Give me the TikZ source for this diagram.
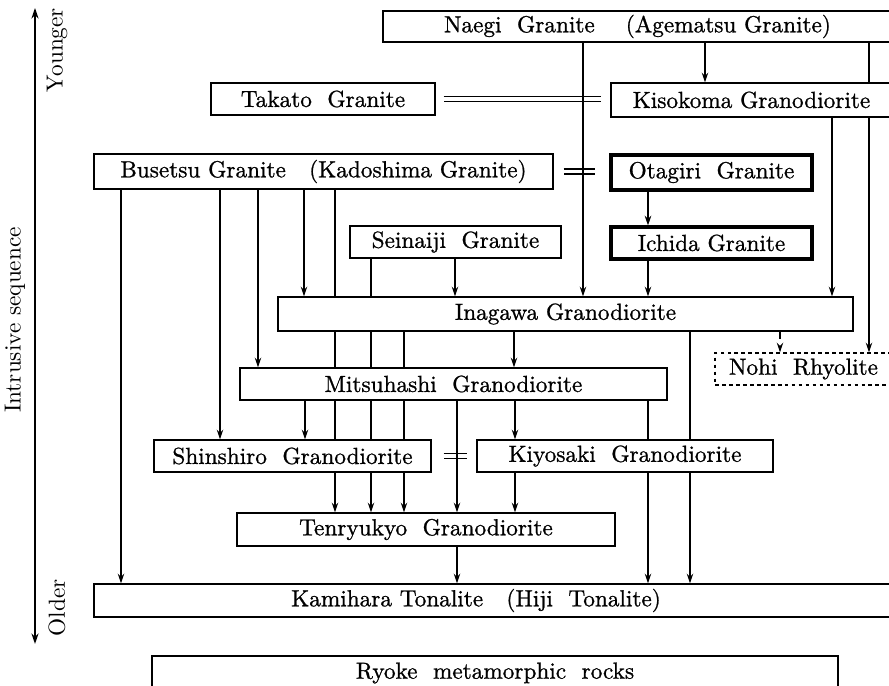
\documentclass[tikz,border=0pt]{standalone}
\usepackage{fontspec}
\usetikzlibrary{arrows.meta,backgrounds}
\newfontfamily\rockfont{Latin Modern Roman}[FakeBold=0.9]
\newcommand{\pu}{0.43pt}
\tikzset{
  rock/.style={
    draw,
    fill=white,
    line width=0.5pt,
    inner sep=0pt,
    font=\rockfont
  },
  rock-thick/.style={rock, line width=1.3pt},
  rock-dashed/.style={rock, dash pattern=on 1.6pt off 1.4pt},
  sz/.style 2 args={minimum width=#1*\pu, minimum height=#2*\pu},
  flow/.style={line width=0.6pt, -{Stealth[length=4.2pt,width=2.8pt]}},
  equal/.style={double, double distance=1.7pt, line width=0.5pt},
  age/.style={line width=0.6pt, {Stealth[length=4.5pt,width=3pt]}-{Stealth[length=4.5pt,width=3pt]}}
}

\begin{document}
\begin{tikzpicture}[x=\pu, y=-\pu]
  \useasboundingbox (0,0) rectangle (889,686);
  \clip (0,0) rectangle (889,686);
  % rock units
  \node[rock, sz={509}{31}] (naegi) at (637.5,26.5) {Naegi\ \ Granite\quad\ (Agematsu Granite)};
  \node[rock, sz={224}{32}] (takato) at (323,99) {Takato\ \ Granite};
  \node[rock, sz={281}{34}] (kisokoma) at (751.5,100) {Kisokoma Granodiorite};
  \node[rock, sz={459}{35}] (busetsu) at (323.5,171.5) {Busetsu Granite\quad(Kadoshima Granite)};
  \node[rock-thick, sz={201}{35}] (otagiri) at (711.5,172.5) {Otagiri\ \ Granite};
  \node[rock, sz={211}{32}] (seinaiji) at (455.5,242) {Seinaiji\ \ Granite};
  \node[rock-thick, sz={201}{32}] (ichida) at (711.5,243) {Ichida Granite};
  \node[rock, sz={575}{34}] (inagawa) at (565.5,314) {Inagawa Granodiorite};
  \node[rock-dashed, sz={177}{32}] (nohi) at (803.5,369) {Nohi\ \ Rhyolite};
  \node[rock, sz={427}{32}] (mitsuhashi) at (453.5,384) {Mitsuhashi\ \ Granodiorite};
  \node[rock, sz={277}{32}] (shinshiro) at (292.5,456) {Shinshiro\ \ Granodiorite};
  \node[rock, sz={296}{32}] (kiyosaki) at (625,456) {Kiyosaki\ \ Granodiorite};
  \node[rock, sz={378}{33}] (tenryukyo) at (426,529.5) {Tenryukyo\ \ Granodiorite};
  \node[rock, sz={798}{33}] (kamihara) at (493,600.5) {Kamihara Tonalite\quad(Hiji\ \ Tonalite)\hspace*{14.6pt}};
  \node[rock, sz={686}{34}] (ryoke) at (495,673) {Ryoke\ \ metamorphic\ \ rocks};
  % age axis
  \coordinate (young) at (35,8);
  \coordinate (old) at (35,644);
  \node[rotate=90] (younger) at (57,50) {Younger};
  \node[rotate=90] (older) at (57,608) {Older};
  \node[rotate=90] (sequence) at (15,320) {Intrusive sequence};

  \begin{scope}[on background layer]
    \draw[age] (old) -- (young);
    % contemporaneous units
    \draw[equal] ([xshift=8*\pu]takato.east) -- ([xshift=-9*\pu]takato.east -| kisokoma.west);
    \draw[equal] ([xshift=10*\pu]busetsu.east) -- ([xshift=-14*\pu]busetsu.east -| otagiri.west);
    \draw[equal] ([xshift=12*\pu]shinshiro.east) -- ([xshift=-9*\pu]shinshiro.east -| kiyosaki.west);
    % intrusive relations
    \foreach \x/\a/\b in {583/naegi/inagawa, 705/naegi/kisokoma, 869/naegi/nohi,
        832/kisokoma/inagawa, 121/busetsu/kamihara, 220/busetsu/shinshiro,
        258/busetsu/mitsuhashi, 304/busetsu/inagawa, 335/busetsu/tenryukyo,
        371/seinaiji/tenryukyo, 455/seinaiji/inagawa, 648/otagiri/ichida,
        648/ichida/inagawa, 404/inagawa/tenryukyo, 514/inagawa/mitsuhashi,
        690/inagawa/kamihara, 305/mitsuhashi/shinshiro, 457/mitsuhashi/tenryukyo,
        515/mitsuhashi/kiyosaki, 648/mitsuhashi/kamihara, 515/kiyosaki/tenryukyo,
        457/tenryukyo/kamihara} {
      \draw[flow] (\x,0 |- \a.south) -- (\x,0 |- \b.north);
    }
    \draw[flow, dashed] (780,0 |- inagawa.south) -- (780,0 |- nohi.north);
  \end{scope}
\end{tikzpicture}
\end{document}
